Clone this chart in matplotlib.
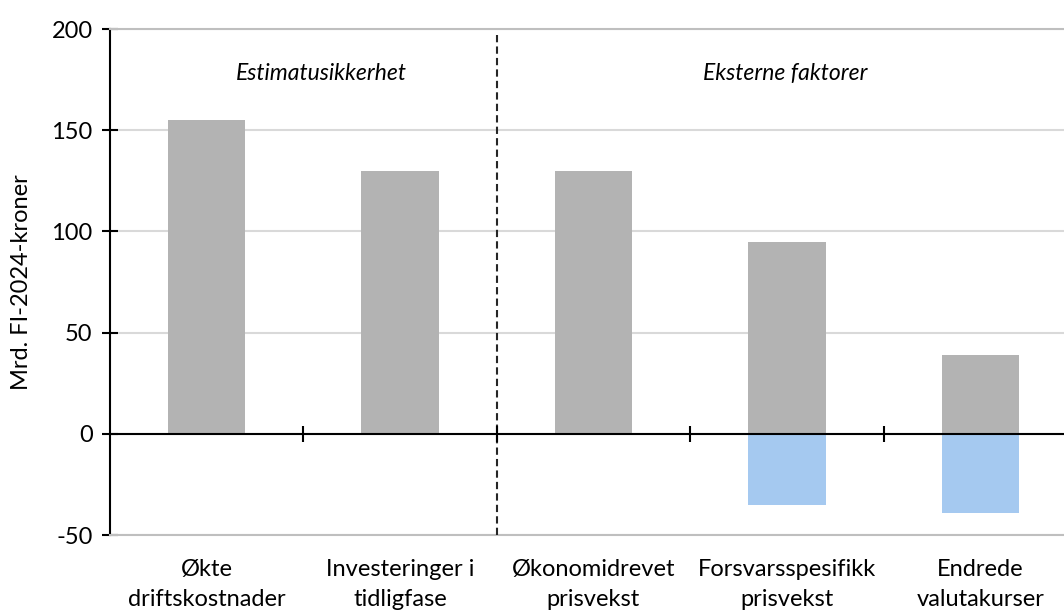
import numpy as np
import matplotlib.pyplot as plt

plt.rcParams['font.family'] = ['Lato', 'DejaVu Sans']
plt.rcParams['axes.unicode_minus'] = False

# data
categories = ['Økte\ndriftskostnader', 'Investeringer i\ntidligfase',
              'Økonomidrevet\nprisvekst', 'Forsvarsspesifikk\nprisvekst',
              'Endrede\nvalutakurser']
upside = [155, 130, 130, 95, 39]
downside = [0, 0, 0, -35, -39]
group_labels = ['Estimatusikkerhet', 'Eksterne faktorer']
group_label_x = [0.595, 2.99]

fig = plt.figure(figsize=(10.64, 6.12), dpi=100)
ax = fig.add_axes([110 / 1064, 1 - 535 / 612, 954 / 1064, (535 - 29) / 612])

x = np.arange(len(categories))
ax.bar(x, upside, width=0.4, color='#b3b3b3', zorder=2)
ax.bar(x, downside, width=0.4, color='#a5c9f0', zorder=2)

ax.set_xlim(-0.5, -0.5 + 954 / 193.4)
ax.set_ylim(-50, 200)
ax.set_yticks([-50, 0, 50, 100, 150, 200])
ax.yaxis.grid(True, color='#d9d9d9', linewidth=1.5, zorder=0)

ax.set_xticks(x)
ax.set_xticklabels(categories, fontsize=17, linespacing=1.55)
ax.tick_params(axis='x', length=0, pad=17)
ax.tick_params(axis='y', direction='inout', length=11, width=1.5,
               labelsize=17, pad=7)

for s in ['top', 'bottom']:
    ax.spines[s].set_color('#bfbfbf')
    ax.spines[s].set_linewidth(1.5)
ax.spines['right'].set_visible(False)
ax.spines['left'].set_linewidth(1.5)

# zero line with category separators
ax.axhline(0, color='black', linewidth=1.5, zorder=4)
secax = ax.secondary_xaxis(0, transform=ax.transData)
secax.set_zorder(5)
secax.set_xticks(x[:-1] + 0.5)
secax.set_xticklabels([])
secax.tick_params(direction='inout', length=12, width=1.5, color='black')
secax.spines['bottom'].set_visible(False)

# divider between groups
ax.axvline(1.5, ymin=0, ymax=0.99, color='#262626', linestyle=(0, (3.5, 2)),
           linewidth=1.5, zorder=3)

for lx, txt in zip(group_label_x, group_labels):
    ax.text(lx, 178, txt, ha='center', va='center', fontsize=16.5,
            style='italic')

ax.set_ylabel('Mrd. FI-2024-kroner', fontsize=17, labelpad=14)

fig.savefig('out.png', dpi=100)
